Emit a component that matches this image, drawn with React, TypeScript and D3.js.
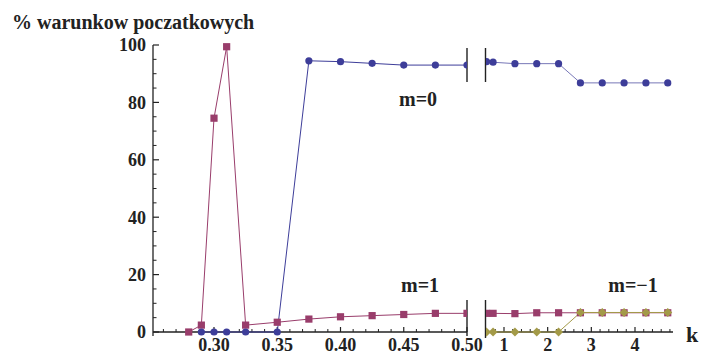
import React from "react";
import * as d3 from "d3";

// Left panel (k from 0.25 to 0.50)
const kLeftM1 = [0.28, 0.29, 0.3, 0.31, 0.325, 0.35, 0.375, 0.4, 0.425, 0.45, 0.475, 0.5];
const valLeftM1 = [0, 2.4, 74.5, 99.4, 2.4, 3.4, 4.5, 5.3, 5.7, 6.1, 6.5, 6.5];
const kLeftM0 = [0.29, 0.3, 0.31, 0.325, 0.35, 0.375, 0.4, 0.425, 0.45, 0.475, 0.5];
const valLeftM0 = [0, 0, 0, 0, 0, 94.5, 94.2, 93.6, 93, 93, 93];

// Right panel (k from ~0.6 to ~4.9)
const kRight = [0.6, 0.75, 1.25, 1.75, 2.25, 2.75, 3.25, 3.75, 4.25, 4.75];
const valRightM0 = [94.2, 94, 93.5, 93.5, 93.5, 86.8, 86.8, 86.8, 86.8, 86.8];
const valRightM1 = [6.5, 6.5, 6.4, 6.7, 6.7, 6.7, 6.7, 6.7, 6.7, 6.7];
const valRightMm1 = [0, 0, 0, 0, 0, 6.8, 6.8, 6.8, 6.8, 6.8];

const yTicks = [0, 20, 40, 60, 80, 100];
const xTicksLeft = [0.3, 0.35, 0.4, 0.45, 0.5];
const xTicksRight = [1, 2, 3, 4];

const BLUE = "#3d3d99";
const MAGENTA = "#993d6b";
const OLIVE = "#a39a48";
const FONT = "Liberation Serif, DejaVu Serif, Times New Roman, serif";
const txt: React.CSSProperties = { fontFamily: FONT, fontWeight: 700 };

export default function App() {
  const y = d3.scaleLinear().domain([0, 100]).range([332, 45]);
  const xL = d3.scaleLinear().domain([0.3, 0.5]).range([214, 467]);
  const xR = d3.scaleLinear().domain([1, 4]).range([504, 635]);
  const leftX0 = 153, leftX1 = 467, rightX0 = 486, rightX1 = 673;
  const y0 = y(0);

  const line = (xs: number[], vs: number[], sx: d3.ScaleLinear<number, number>) =>
    d3.line<number>().x((_, i) => sx(xs[i])).y((v) => y(v))(vs) || "";

  const minorY = d3.range(0, 101, 5).filter((v) => v % 20 !== 0);
  const minorXL = d3.range(26, 51).map((v) => v / 100).filter((v) => Math.round(v * 100) % 5 !== 0);
  const minorXR = d3.range(3, 25).map((v) => v / 5).filter((v) => Math.abs(v - Math.round(v)) > 0.01 && xR(v) > rightX0 && xR(v) < rightX1);

  const circles = (xs: number[], vs: number[], sx: any) =>
    vs.map((v, i) => <circle key={"c" + i} cx={sx(xs[i])} cy={y(v)} r={3.6} fill={BLUE} />);
  const squares = (xs: number[], vs: number[], sx: any) =>
    vs.map((v, i) => (
      <rect key={"s" + i} x={sx(xs[i]) - 3.6} y={y(v) - 3.6} width={7.2} height={7.2} fill={MAGENTA} />
    ));
  const diamonds = (xs: number[], vs: number[], sx: any) =>
    vs.map((v, i) => {
      const cx = sx(xs[i]), cy = y(v), r = 4.5;
      return <path key={"d" + i} d={`M${cx},${cy - r}L${cx + r},${cy}L${cx},${cy + r}L${cx - r},${cy}Z`} fill={OLIVE} />;
    });

  return (
    <svg width={702} height={356} style={{ position: "absolute", left: 0, top: 0, background: "#fff" }}>
      <defs>
        <clipPath id="clipL"><rect x={leftX0 - 10} y={30} width={leftX1 - leftX0 + 10} height={320} /></clipPath>
        <clipPath id="clipR"><rect x={rightX0} y={30} width={rightX1 - rightX0 + 20} height={320} /></clipPath>
      </defs>

      {/* title */}
      <text x={12} y={29} fontSize={20} fill="#222" style={txt}>% warunkow poczatkowych</text>

      {/* y axis */}
      <line x1={leftX0} x2={leftX0} y1={y(100)} y2={y0 + 4} stroke="#222" strokeWidth={1.3} />
      {yTicks.map((t) => (
        <g key={"yt" + t}>
          <line x1={leftX0} x2={leftX0 + 6} y1={y(t)} y2={y(t)} stroke="#222" strokeWidth={1.2} />
          <text x={146} y={y(t)} dy="0.35em" textAnchor="end" fontSize={18} fill="#222" style={txt}>{t}</text>
        </g>
      ))}
      {minorY.map((t) => (
        <line key={"ym" + t} x1={leftX0} x2={leftX0 + 3.5} y1={y(t)} y2={y(t)} stroke="#222" strokeWidth={1} />
      ))}

      {/* left x axis */}
      <line x1={leftX0} x2={leftX1} y1={y0} y2={y0} stroke="#222" strokeWidth={1.3} />
      {xTicksLeft.map((t) => (
        <g key={"xl" + t}>
          <line x1={xL(t)} x2={xL(t)} y1={y0} y2={y0 - 5} stroke="#222" strokeWidth={1.2} />
          <text x={xL(t)} y={351} textAnchor="middle" fontSize={18} fill="#222" style={txt}>{t.toFixed(2)}</text>
        </g>
      ))}
      {minorXL.map((t) => (
        <line key={"xlm" + t} x1={xL(t)} x2={xL(t)} y1={y0} y2={y0 - 3} stroke="#222" strokeWidth={1} />
      ))}

      {/* right x axis */}
      <line x1={rightX0} x2={rightX1} y1={y0} y2={y0} stroke="#222" strokeWidth={1.3} />
      {xTicksRight.map((t) => (
        <g key={"xr" + t}>
          <line x1={xR(t)} x2={xR(t)} y1={y0} y2={y0 - 5} stroke="#222" strokeWidth={1.2} />
          <text x={xR(t)} y={351} textAnchor="middle" fontSize={18} fill="#222" style={txt}>{t}</text>
        </g>
      ))}
      {minorXR.map((t) => (
        <line key={"xrm" + t} x1={xR(t)} x2={xR(t)} y1={y0} y2={y0 - 3} stroke="#222" strokeWidth={1} />
      ))}

      {/* break marks */}
      <line x1={leftX1} x2={leftX1} y1={48} y2={82} stroke="#222" strokeWidth={1.4} />
      <line x1={rightX0 - 0.5} x2={rightX0 - 0.5} y1={48} y2={82} stroke="#222" strokeWidth={1.4} />
      <line x1={leftX1} x2={leftX1} y1={300} y2={336} stroke="#222" strokeWidth={1.4} />
      <line x1={rightX0 - 0.5} x2={rightX0 - 0.5} y1={300} y2={338} stroke="#222" strokeWidth={1.4} />

      {/* left series */}
      <g clipPath="url(#clipL)">
        <path d={line(kLeftM1, valLeftM1, xL)} fill="none" stroke={MAGENTA} strokeWidth={1} />
        <path d={line(kLeftM0, valLeftM0, xL)} fill="none" stroke={BLUE} strokeWidth={1} />
        {squares(kLeftM1, valLeftM1, xL)}
        {circles(kLeftM0, valLeftM0, xL)}
      </g>

      {/* right series */}
      <g clipPath="url(#clipR)">
        <path d={line(kRight, valRightM0, xR)} fill="none" stroke={BLUE} strokeOpacity={0.7} strokeWidth={1} />
        <path d={line(kRight, valRightM1, xR)} fill="none" stroke={MAGENTA} strokeWidth={1} />
        <path d={line(kRight, valRightMm1, xR)} fill="none" stroke={OLIVE} strokeWidth={1} />
        {circles(kRight, valRightM0, xR)}
        {squares(kRight, valRightM1, xR)}
        {diamonds(kRight, valRightMm1, xR)}
      </g>

      {/* labels */}
      <text x={418} y={106} textAnchor="middle" fontSize={20} fill="#222" style={txt}>m=0</text>
      <text x={420} y={292} textAnchor="middle" fontSize={20} fill="#222" style={txt}>m=1</text>
      <text x={633} y={292} textAnchor="middle" fontSize={20} fill="#222" style={txt}>m=−1</text>
      <text x={692} y={342} textAnchor="middle" fontSize={22} fill="#222" style={txt}>k</text>
    </svg>
  );
}
